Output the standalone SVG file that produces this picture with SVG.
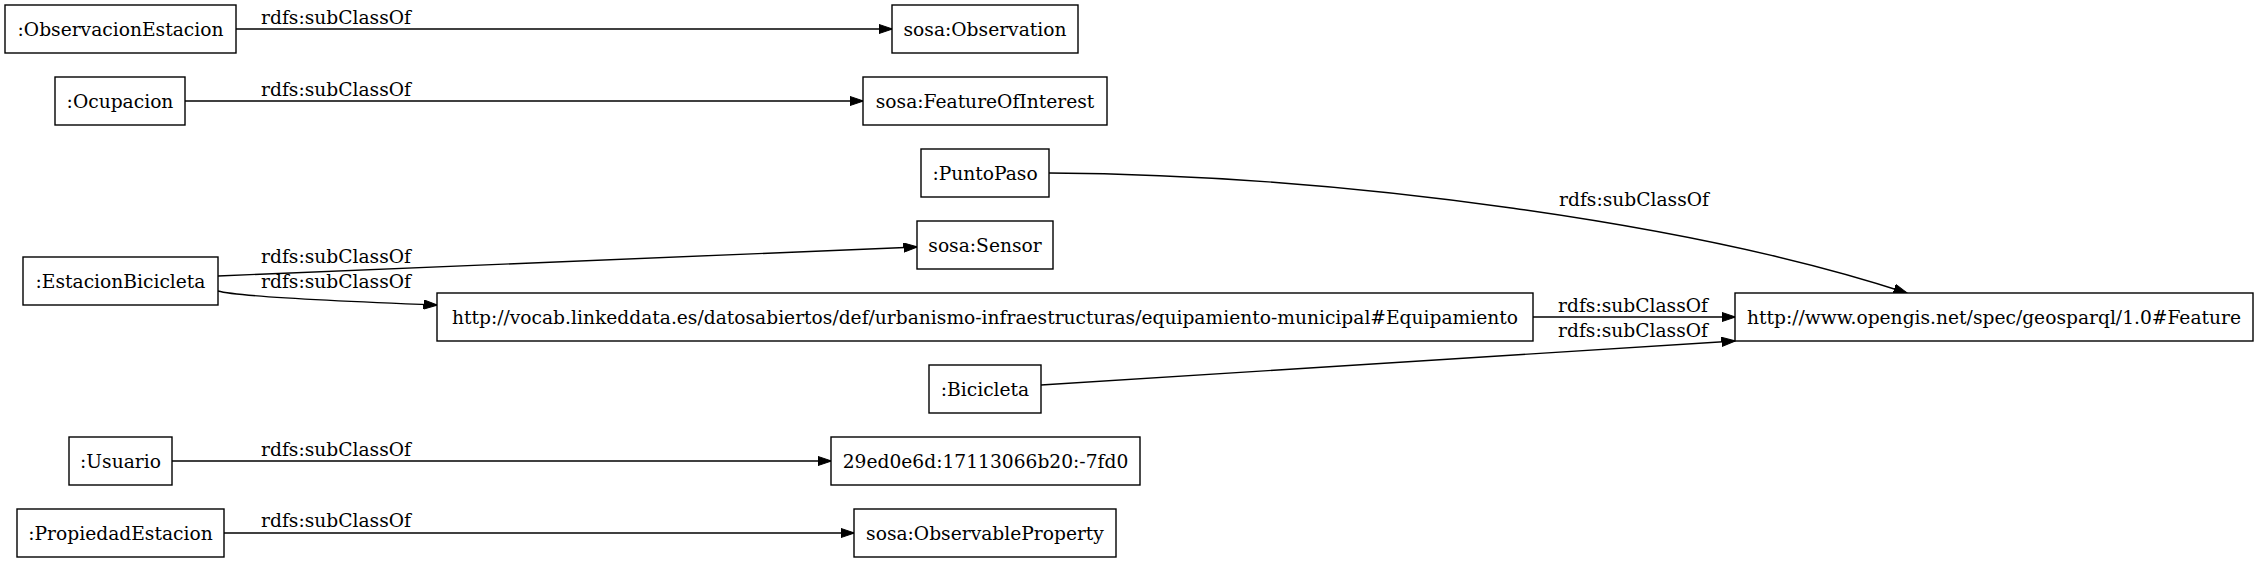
<svg xmlns="http://www.w3.org/2000/svg" width="2259" height="563" viewBox="0 0 2259 563">
<style>
.n rect{fill:#fff;stroke:#000;stroke-width:1.4}
text{font-family:"DejaVu Serif",serif;font-size:18.67px;fill:#000;text-anchor:middle}
.e path{fill:none;stroke:#000;stroke-width:1.4;marker-end:url(#ah)}
</style>
<defs>
<marker id="ah" viewBox="0 0 14 10" refX="13.5" refY="5" markerWidth="14" markerHeight="10" markerUnits="userSpaceOnUse" orient="auto">
<path d="M0,0.3 L14,5 L0,9.7 Z" fill="#000" stroke="#000" stroke-width="1"/>
</marker>
</defs>
<rect width="2259" height="563" fill="#fff"/>
<g id="connectors" class="e">
<path d="M236,29 L892,29"/>
<path d="M185,101 L863,101"/>
<path d="M1049,173 C1350,175 1700,225 1907,293"/>
<path d="M218,276 L917,247"/>
<path d="M218,291 C235,296 330,301 437,305"/>
<path d="M1533,317 L1735,317"/>
<path d="M1041,385 L1735,341"/>
<path d="M172,461 L831,461"/>
<path d="M224,533 L854,533"/>
</g>
<g id="edge-labels">
<text x="336" y="24">rdfs:subClassOf</text>
<text x="336" y="96">rdfs:subClassOf</text>
<text x="1634" y="206">rdfs:subClassOf</text>
<text x="336" y="263">rdfs:subClassOf</text>
<text x="336" y="288">rdfs:subClassOf</text>
<text x="1633" y="312">rdfs:subClassOf</text>
<text x="1633" y="337">rdfs:subClassOf</text>
<text x="336" y="456">rdfs:subClassOf</text>
<text x="336" y="527">rdfs:subClassOf</text>
</g>
<g id="n-ObservacionEstacion" class="n"><rect x="5" y="5" width="231" height="48"/><text x="120.5" y="35.5">:ObservacionEstacion</text></g>
<g id="n-Observation" class="n"><rect x="892" y="5" width="186" height="48"/><text x="985" y="35.5">sosa:Observation</text></g>
<g id="n-Ocupacion" class="n"><rect x="55" y="77" width="130" height="48"/><text x="120" y="107.5">:Ocupacion</text></g>
<g id="n-FeatureOfInterest" class="n"><rect x="863" y="77" width="244" height="48"/><text x="985" y="107.5">sosa:FeatureOfInterest</text></g>
<g id="n-PuntoPaso" class="n"><rect x="921" y="149" width="128" height="48"/><text x="985" y="179.5">:PuntoPaso</text></g>
<g id="n-Sensor" class="n"><rect x="917" y="221" width="136" height="48"/><text x="985" y="251.5">sosa:Sensor</text></g>
<g id="n-EstacionBicicleta" class="n"><rect x="23" y="257" width="195" height="48"/><text x="120.5" y="287.5">:EstacionBicicleta</text></g>
<g id="n-Equipamiento" class="n"><rect x="437" y="293" width="1096" height="48"/><text x="985" y="323.5">http://vocab.linkeddata.es/datosabiertos/def/urbanismo-infraestructuras/equipamiento-municipal#Equipamiento</text></g>
<g id="n-Feature" class="n"><rect x="1735" y="293" width="518" height="48"/><text x="1994" y="323.5">http://www.opengis.net/spec/geosparql/1.0#Feature</text></g>
<g id="n-Bicicleta" class="n"><rect x="929" y="365" width="112" height="48"/><text x="985" y="395.5">:Bicicleta</text></g>
<g id="n-Usuario" class="n"><rect x="69" y="437" width="103" height="48"/><text x="120.5" y="467.5">:Usuario</text></g>
<g id="n-bnode" class="n"><rect x="831" y="437" width="309" height="48"/><text x="985.5" y="467.5">29ed0e6d:17113066b20:-7fd0</text></g>
<g id="n-PropiedadEstacion" class="n"><rect x="17" y="509" width="207" height="48"/><text x="120.5" y="539.5">:PropiedadEstacion</text></g>
<g id="n-ObservableProperty" class="n"><rect x="854" y="509" width="262" height="48"/><text x="985" y="539.5">sosa:ObservableProperty</text></g>
</svg>
